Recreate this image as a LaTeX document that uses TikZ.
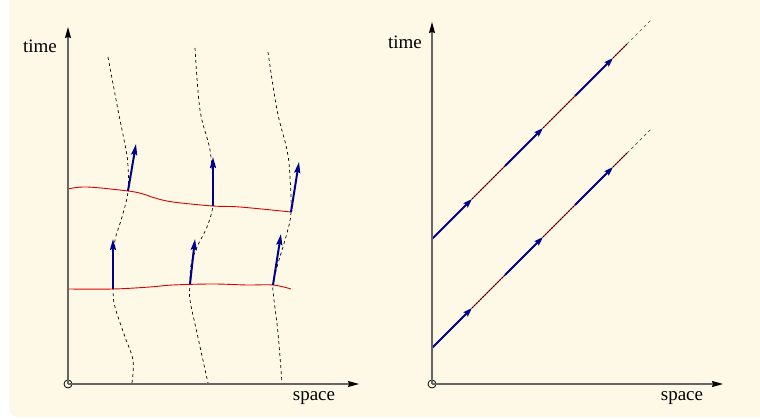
\documentclass[tikz,border=0pt]{standalone}
\usepackage{fontspec}
\setmainfont{Liberation Serif}
\usepackage{tikz}
\usetikzlibrary{arrows.meta, calc}
\definecolor{paper}{RGB}{254,249,231}
\definecolor{navy}{RGB}{0,0,140}
\definecolor{wred}{RGB}{222,0,0}
\tikzstyle{axis} = [line width=1.3pt, draw=black!60, -{Stealth[length=11pt,width=6pt,inset=1pt,color=black]}]
\tikzstyle{origin} = [circle, draw=black, line width=0.8pt, minimum size=8pt, inner sep=0pt]
\tikzstyle{axislabel} = [font=\fontsize{19}{20}\selectfont, inner sep=0pt]
\tikzstyle{worldline} = [line width=0.7pt, dash pattern=on 3pt off 3pt]
\tikzstyle{slice} = [line width=0.9pt, draw=wred]
\tikzstyle{vec} = [line width=2pt, draw=navy, -{Stealth[length=11pt,width=6pt,inset=1.5pt]}]
\tikzstyle{ray} = [line width=2pt, draw=navy, -{Stealth[length=9pt,width=6pt,inset=1.5pt]}]
\tikzstyle{gap} = [line width=0.9pt, draw=wred]
\tikzstyle{gapdash} = [line width=0.9pt, draw=black, dash pattern=on 1.5pt off 1.5pt]

\begin{document}
\begin{tikzpicture}[x=1pt, y=-1pt]
\useasboundingbox (0,0) rectangle (760,419);
\fill[paper, rounded corners=9pt] (9,-20) rectangle (790,417);

% left: curved worldlines
\draw[worldline] plot[smooth, tension=0.6] coordinates {(108,57) (118,110) (126,150) (128,167) (128,192) (122,217) (115,240) (113,262) (113,290) (115,307) (125,337) (133,360) (132,383)};
\draw[worldline] plot[smooth, tension=0.6] coordinates {(195,48) (200,110) (210,150) (213,187) (213,206) (207,227) (197,247) (191,265) (190,284) (190,300) (197,333) (208,383)};
\draw[worldline] plot[smooth, tension=0.6] coordinates {(268,52) (277,110) (287,150) (290,177) (291,212) (287,233) (277,267) (273,285) (274,300) (278,333) (282,383)};

% left: slices
\draw[slice] plot[smooth, tension=0.6] coordinates {(68,189) (87,187) (128,191) (143,194) (155,198) (173,202) (213,206) (240,207) (291,212)};
\draw[slice] plot[smooth, tension=0.6] coordinates {(68,289) (113,289) (150,287) (173,285) (213,284) (247,285) (273,285) (291,289)};

% left: vectors
\draw[vec] (128,191) -- (136,144);
\draw[vec] (213,206) -- (213,157);
\draw[vec] (291,212) -- (299,162);
\draw[vec] (113,289) -- (113,239);
\draw[vec] (190,284) -- (195,239);
\draw[vec] (273,285) -- (281,234);

% left: axes
\node (o1) [origin] at (68,384) {};
\coordinate (t1) at (68,27);
\coordinate (x1) at (359,384);
\draw[axis] (o1.center) -- (t1);
\draw[axis] (o1.center) -- (x1);
\node (time1) [axislabel] at (40,46) {time};
\node (space1) [axislabel] at (314,398) {space};

% right: straight rays
\foreach \y in {239,348} {
  \coordinate (s) at (432,\y);
  \foreach \a/\b in {0/40,73/111,143/181}
    \draw[ray] ($(s)+(\a,-\a)$) -- ($(s)+(\b,-\b)$);
  \foreach \a/\b in {40/73,111/143,181/195} {
    \draw[gap] ($(s)+(\a,-\a)$) -- ($(s)+(\b,-\b)$);
    \draw[gapdash] ($(s)+(\a,-\a)$) -- ($(s)+(\b,-\b)$);
  }
  \draw[worldline, draw=black!70] ($(s)+(195,-195)$) -- ($(s)+(219,-219)$);
}

% right: axes
\node (o2) [origin] at (432,384) {};
\coordinate (t2) at (432,22);
\coordinate (x2) at (723,384);
\draw[axis] (o2.center) -- (t2);
\draw[axis] (o2.center) -- (x2);
\node (time2) [axislabel] at (405,42) {time};
\node (space2) [axislabel] at (682,398) {space};
\end{tikzpicture}
\end{document}
